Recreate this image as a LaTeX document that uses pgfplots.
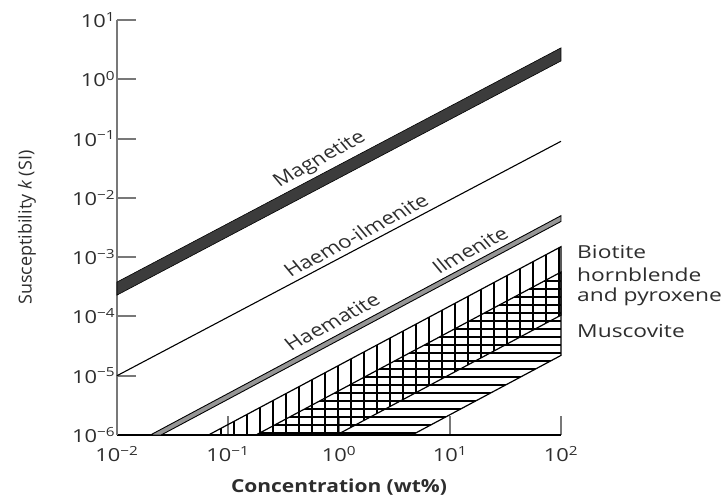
\documentclass[border=0pt]{standalone}
\usepackage{fontspec}
\setmainfont{Open Sans}
\usepackage{pgfplots}
\pgfplotsset{compat=1.18}
\usetikzlibrary{patterns.meta}
\definecolor{magfill}{RGB}{60,60,60}
\definecolor{hemfill}{RGB}{150,150,150}
\definecolor{axgray}{RGB}{120,120,120}
\definecolor{txt}{RGB}{45,45,45}

\begin{document}
\begin{tikzpicture}
\begin{axis}[
    name=ax,
    scale only axis,
    width=444bp, height=415bp,
    xmode=log, ymode=log,
    xmin=0.01, xmax=100,
    ymin=1e-6, ymax=10,
    axis x line*=bottom,
    axis y line*=left,
    x axis line style={-, black, line width=1.2bp},
    y axis line style={-, axgray, line width=2.6bp},
    xminorticks=false, yminorticks=false,
    tick align=inside,
    major tick length=19bp,
    xtick={0.01,0.1,1,10,100},
    xticklabels={10\textsuperscript{−2},10\textsuperscript{−1},10\textsuperscript{0},10\textsuperscript{1},10\textsuperscript{2}},
    ytick={1e-6,1e-5,1e-4,1e-3,1e-2,1e-1,1,10},
    yticklabels={10\textsuperscript{−6},10\textsuperscript{−5},10\textsuperscript{−4},10\textsuperscript{−3},10\textsuperscript{−2},10\textsuperscript{−1},10\textsuperscript{0},10\textsuperscript{1}},
    xtick style={axgray, line width=2bp},
    ytick style={axgray, line width=2bp},
    tick label style={font=\fontsize{18}{20}\selectfont, text=txt, xscale=1.22},
    yticklabel style={xshift=2bp},
    xticklabel style={yshift=-8bp},
    xlabel={\textbf{Concentration (wt\%)}},
    ylabel={Susceptibility \textit{k} (SI)},
    every axis x label/.style={at={(axis description cs:0.5,0)}, yshift=-52bp, anchor=center, font=\fontsize{18}{20}\selectfont, text=txt, xscale=1.17},
    every axis y label/.style={at={(axis description cs:0,0.5)}, xshift=-90bp, anchor=center, font=\fontsize{18}{20}\selectfont, text=txt, rotate=90},
    clip=false,
]
% Muscovite (horizontal hatch)
\addplot[draw=black, line width=1.2bp, pattern={Lines[angle=0, distance=8bp, line width=1.3bp]}]
    coordinates {(0.1786,1e-6) (100,5.6e-4) (100,2.2e-5) (4.545,1e-6)} -- cycle;
% Biotite, hornblende and pyroxene (vertical hatch)
\addplot[draw=black, line width=1.2bp, pattern={Lines[angle=90, distance=13bp, line width=1.8bp]}]
    coordinates {(0.0667,1e-6) (100,1.5e-3) (100,1.05e-4) (0.952,1e-6)} -- cycle;
% Haematite / Ilmenite band
\addplot[draw=black, line width=0.9bp, fill=hemfill]
    coordinates {(0.02,1e-6) (100,5e-3) (100,4e-3) (0.025,1e-6)} -- cycle;
% Haemo-ilmenite
\addplot[black, line width=1.1bp] coordinates {(0.01,1e-5) (100,0.09)};
% Magnetite band
\addplot[draw=black, line width=0.6bp, fill=magfill]
    coordinates {(0.01,2.29e-4) (100,2.04) (100,3.39) (0.01,3.8e-4)} -- cycle;

\begin{scope}[font=\fontsize{18}{20}\selectfont, text=txt]
\node[xscale=1.25, rotate=33.7] at (axis cs:0.675,0.0436) {Magnetite};
\node[xscale=1.25, rotate=33.7] at (axis cs:1.42,2.35e-3) {Haemo-ilmenite};
\node[xscale=1.25, rotate=33.7] at (axis cs:0.865,8.05e-5) {Haematite};
\node[xscale=1.25, rotate=33.7] at (axis cs:15.1,1.32e-3) {Ilmenite};
\node[anchor=base west, inner sep=0pt, xscale=1.27] at (rel axis cs:1.036,0.4265) {Biotite};
\node[anchor=base west, inner sep=0pt, xscale=1.27] at (rel axis cs:1.036,0.3687) {hornblende};
\node[anchor=base west, inner sep=0pt, xscale=1.27] at (rel axis cs:1.036,0.3205) {and pyroxene};
\node[anchor=base west, inner sep=0pt, xscale=1.27] at (rel axis cs:1.036,0.236) {Muscovite};
\end{scope}
\end{axis}
\pgfresetboundingbox
\path ([xshift=-117bp,yshift=-62bp]ax.south west) rectangle ([xshift=161bp,yshift=20bp]ax.north east);
\end{tikzpicture}
\end{document}
